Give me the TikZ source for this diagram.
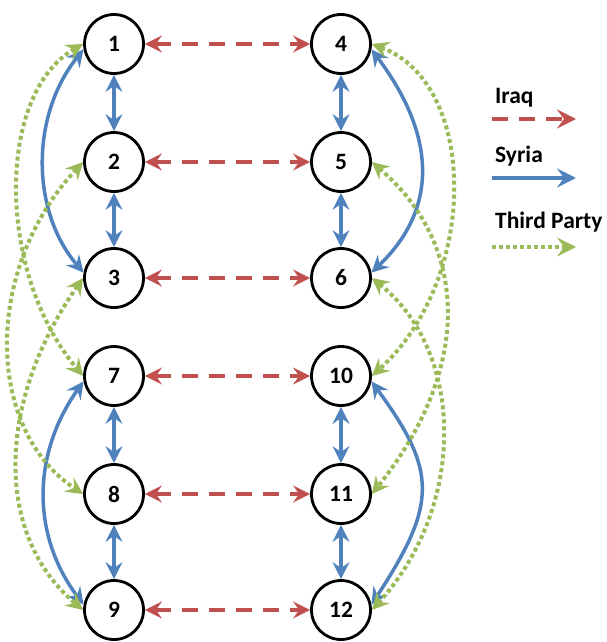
\documentclass[tikz,border=0pt]{standalone}
\usepackage{fontspec}
\setmainfont{Carlito}
\usetikzlibrary{arrows.meta}
\definecolor{iraqred}{HTML}{C0504D}
\definecolor{syriablue}{HTML}{4F81BD}
\definecolor{thirdgreen}{HTML}{9BBB59}
\begin{document}
\begin{tikzpicture}[x=1pt,y=-1pt,
  >={Stealth[length=17pt,width=17pt,inset=6pt]},
  bigtips/.style={>={Stealth[length=19pt,width=19pt,inset=7pt]}},
  party/.style={circle,draw=black,line width=2.8pt,minimum size=59pt,inner sep=0pt,
    font=\fontsize{23.5}{27}\selectfont\bfseries},
  legendtext/.style={anchor=base west,inner sep=0pt,font=\fontsize{23.5}{27}\selectfont\bfseries},
  iraq/.style={draw=iraqred,line width=3.5pt,dash pattern=on 16pt off 11pt},
  syria/.style={draw=syriablue,line width=3.5pt},
  third/.style={draw=thirdgreen,line width=4pt,dash pattern=on 4pt off 3pt}]
\useasboundingbox (0,0) rectangle (607,642);

% parties
\node[party] (n1)  at (114,44)  {1};
\node[party] (n2)  at (114,162) {2};
\node[party] (n3)  at (114,278) {3};
\node[party] (n7)  at (114,376) {7};
\node[party] (n8)  at (114,494) {8};
\node[party] (n9)  at (114,610) {9};
\node[party] (n4)  at (341,44)  {4};
\node[party] (n5)  at (341,162) {5};
\node[party] (n6)  at (341,278) {6};
\node[party] (n10) at (341,376) {10};
\node[party] (n11) at (341,494) {11};
\node[party] (n12) at (341,610) {12};

% Iraq links
\foreach \a/\b in {n1/n4,n2/n5,n3/n6,n7/n10,n8/n11,n9/n12}
  \draw[iraq,<->] (\a.east) -- (\b.west);

% Syria links, straight
\foreach \a/\b in {n1/n2,n2/n3,n7/n8,n8/n9,n4/n5,n5/n6,n10/n11,n11/n12}
  \draw[syria,<->] (\a.south) -- (\b.north);

% Syria links, curved
\draw[syria,<->] (n1.190) .. controls +(-53,66) and +(-53,-62) .. (n3.170);
\draw[syria,<->] (n7.190) .. controls +(-52,73) and +(-52,-69) .. (n9.170);
\draw[syria,<->] (n4.350) .. controls +(66,88) and +(66,-63) .. (n6.10);
\draw[syria,<->] (n10.350) .. controls +(66,90) and +(66,-101) .. (n12.10);

% third party links
\draw[third,<->] (n1.180) .. controls +(-87,50) and +(-87,-104) .. (n7.180);
\draw[third,<->] (n2.180) .. controls +(-99,106) and +(-99,-66) .. (n8.180);
\draw[third,<->] (n3.180) .. controls +(-88,126) and +(-88,-74) .. (n9.180);
\draw[third,<->] (n4.0) .. controls +(107,40) and +(107,-97) .. (n10.0);
\draw[third,<->] (n5.0) .. controls +(99,85) and +(99,-124) .. (n11.0);
\draw[third,<->] (n6.0) .. controls +(94,75) and +(94,-103) .. (n12.0);

% legend
\node[legendtext] (lgiraq)  at (495,103) {Iraq};
\node[legendtext] (lgsyria) at (495,162) {Syria};
\node[legendtext] (lgthird) at (495,228) {Third Party};
\coordinate (iraqA) at (492,119);  \coordinate (iraqB) at (576,119);
\coordinate (syriaA) at (492,178); \coordinate (syriaB) at (576,178);
\coordinate (thirdA) at (492,247); \coordinate (thirdB) at (576,247);
\begin{scope}[bigtips]
\draw[iraq,->] (iraqA) -- (iraqB);
\draw[syria,->] (syriaA) -- (syriaB);
\draw[third,->] (thirdA) -- (thirdB);
\end{scope}
\end{tikzpicture}
\end{document}
